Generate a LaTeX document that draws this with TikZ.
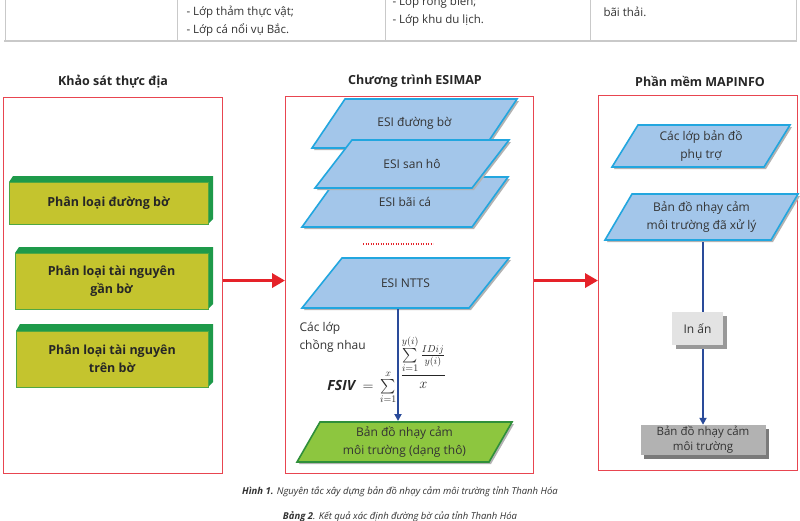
\documentclass[tikz,border=0pt]{standalone}
\usepackage{amsmath}
\usepackage{fontspec}
\setmainfont{Open Sans}
\usetikzlibrary{arrows.meta}
\definecolor{boxred}{HTML}{E84550}
\definecolor{arrred}{HTML}{E52229}
\definecolor{olivef}{HTML}{C4C42E}
\definecolor{dgreen}{HTML}{1E9A4A}
\definecolor{pblue}{HTML}{A3C6EA}
\definecolor{pedge}{HTML}{22A6DF}
\definecolor{pgreen}{HTML}{8DC63F}
\definecolor{gedge}{HTML}{2F8F3A}
\definecolor{navyc}{HTML}{2A4B9A}
\definecolor{tgray}{HTML}{C9C9C9}
\tikzset{
 redframe/.style={draw=boxred, line width=1.1pt, inner sep=0pt, anchor=north west},
 coltitle/.style={font=\bfseries\fontsize{12.5}{14}\selectfont, text=black!85},
 gtext/.style={font=\bfseries\fontsize{12.5}{18}\selectfont, align=center, text=black!85},
 ltext/.style={font=\fontsize{12}{18}\selectfont, align=center, text=black!80},
 tabtext/.style={font=\fontsize{11.5}{12}\selectfont, text=black!80, anchor=west},
 captext/.style={font=\itshape\fontsize{9.5}{11}\selectfont, text=black!80},
 redarrow/.style={arrred, line width=3.5pt, -{Triangle[length=13pt,width=14pt]}},
 bluearrow/.style={navyc, line width=1.8pt, -{Triangle[length=7pt,width=7pt]}},
 layerstyle/.style={fill=pblue, draw=pedge, line width=1.6pt, line join=miter},
 greenlayer/.style={fill=pgreen, draw=gedge, line width=1.6pt, line join=miter},
 formula/.style={font=\fontsize{14}{17}\selectfont, inner sep=0.5pt, text=black!85},
}
\newcommand\layer[8]{%
 \fill[black!30] ({#2+2},{#3+2}) -- ({#2+#6+2},{#3+2}) -- ({#4+#6+2},{#5+2}) -- ({#4+2},{#5+2}) -- cycle;
 \draw[#7] (#2,#3) -- ({#2+#6},#3) -- ({#4+#6},#5) -- (#4,#5) -- cycle;
 \node[ltext] (#1) at ({(#2+#4+#6)/2},{(#3+#5)/2}) {#8};
}
\newcommand\greenbox[7]{% name, x1, x2, ytop, yfront, ybottom, text
 \fill[dgreen] (#2,#5) -- ({#2+4},#4) -- ({#3+5},#4) -- ({#3+5},{#6-5}) -- (#3,#6) -- cycle;
 \fill[olivef] (#2,#5) rectangle (#3,#6);
 \draw[dgreen!70!olivef, line width=0.6pt] (#2,#5) rectangle (#3,#6);
 \node[gtext] (#1) at ({(#2+#3)/2},{(#5+#6)/2}) {#7};
}
\begin{document}
\begin{tikzpicture}[x=1pt,y=-1pt]
\useasboundingbox (0,0) rectangle (800,520);
\fill[white] (0,0) rectangle (800,520);

% table fragment
\draw[tgray, line width=0.8pt] (5,-5) -- (5,41);
\draw[tgray, line width=0.8pt] (796,-5) -- (796,41);
\draw[tgray, line width=0.6pt] (177,-5) -- (177,41);
\draw[tgray, line width=0.6pt] (385,-5) -- (385,41);
\draw[tgray, line width=0.6pt] (590,-5) -- (590,41);
\draw[tgray, line width=2.5pt] (4,41) -- (797,41);
\node[tabtext] (t1) at (183,12) {- Lớp thảm thực vật;};
\node[tabtext] (t2) at (183,30) {- Lớp cá nổi vụ Bắc.};
\node[tabtext] (t3) at (389,2) {- Lớp rong biển;};
\node[tabtext] (t4) at (389,20) {- Lớp khu du lịch.};
\node[tabtext] (t5) at (600,12) {bãi thải.};

% column frames
\node[redframe, minimum width=219pt, minimum height=376pt] (lbox) at (3,97) {};
\node[redframe, minimum width=248pt, minimum height=377pt] (mbox) at (285,96) {};
\node[redframe, minimum width=199pt, minimum height=375pt] (rbox) at (598,95) {};

\node[coltitle] (ltitle) at (113,82) {Khảo sát thực địa};
\node[coltitle] (mtitle) at (415,81) {Chương trình ESIMAP};
\node[coltitle] (rtitle) at (700,81) {Phần mềm MAPINFO};

% left column boxes
\greenbox{g1}{9}{208}{176}{182}{224}{Phân loại đường bờ}
\greenbox{g2}{15}{208}{247}{253}{309}{Phân loại tài nguyên\\gần bờ}
\greenbox{g3}{16}{208}{324}{331}{387}{Phân loại tài nguyên\\trên bờ}

% middle column layers
\layer{esi1}{345}{99}{312}{148}{172}{layerstyle}{ESI đường bờ}
\layer{esi3}{338}{177}{302}{227}{170}{layerstyle}{ESI bãi cá}
\layer{esi2}{352}{140}{315}{188}{157}{layerstyle}{ESI san hô}
\coordinate (dotl) at (363,244);
\coordinate (dotr) at (433,244);
\draw[arrred, line width=1.2pt, dash pattern=on 1.2pt off 1.3pt] (dotl) -- (dotr);
\layer{ntts}{342}{258}{302}{308}{167}{layerstyle}{ESI NTTS}

\coordinate (nttsb) at (398,309);
\coordinate (rawt) at (398,421);
\draw[bluearrow] (nttsb) -- (rawt);

\node[ltext, align=left, anchor=north west] (overlap) at (296,319) {Các lớp\\chồng nhau};
\node[formula, anchor=base east] (fsiv) at (397,390) {$\textbf{\textit{FSIV}} \,=\, \sum\limits_{i=1}^{x}$};
\node[formula, anchor=base west] (frac) at (400,379) {$\dfrac{\sum\limits_{i=1}^{y(i)} \frac{IDij}{y(i)}}{x}$};

\layer{raw}{320}{422}{297}{462}{192}{greenlayer}{Bản đồ nhạy cảm\\môi trường (dạng thô)}

% right column
\layer{aux}{638}{125}{612}{167}{152}{layerstyle}{Các lớp bản đồ\\phụ trợ}
\layer{proc}{632}{194}{605}{240}{166}{layerstyle}{Bản đồ nhạy cảm\\môi trường đã xử lý}

\coordinate (procb) at (703,242);
\node[minimum width=125pt, minimum height=30pt, inner sep=0pt] (final) at (703,440) {};
\draw[bluearrow] (procb) -- (final.north);

\fill[black!40] (676,316) rectangle (727,349);
\node[fill=black!11, minimum width=51pt, minimum height=33pt, inner sep=0pt, ltext] (print) at (697.5,328.5) {In ấn};

\fill[black!52] (644,429) rectangle (769,459);
\node[fill=black!30, minimum width=125pt, minimum height=30pt, inner sep=0pt, ltext, font=\fontsize{11.5}{15}\selectfont] (finalbox) at (703,440) {Bản đồ nhạy cảm\\môi trường};

% red arrows between columns
\draw[redarrow] ([yshift=5pt]lbox.east) -- ([yshift=5pt]lbox.east -| mbox.west);
\draw[redarrow] ([yshift=4.5pt]mbox.east) -- ([yshift=4.5pt]mbox.east -| rbox.west);

% captions
\node[captext] (cap1) at (400,492) {\textbf{Hình 1.} Nguyên tắc xây dựng bản đồ nhạy cảm môi trường tỉnh Thanh Hóa};
\node[captext] (cap2) at (400,517) {\textbf{Bảng 2}. Kết quả xác định đường bờ của tỉnh Thanh Hóa};
\end{tikzpicture}
\end{document}
